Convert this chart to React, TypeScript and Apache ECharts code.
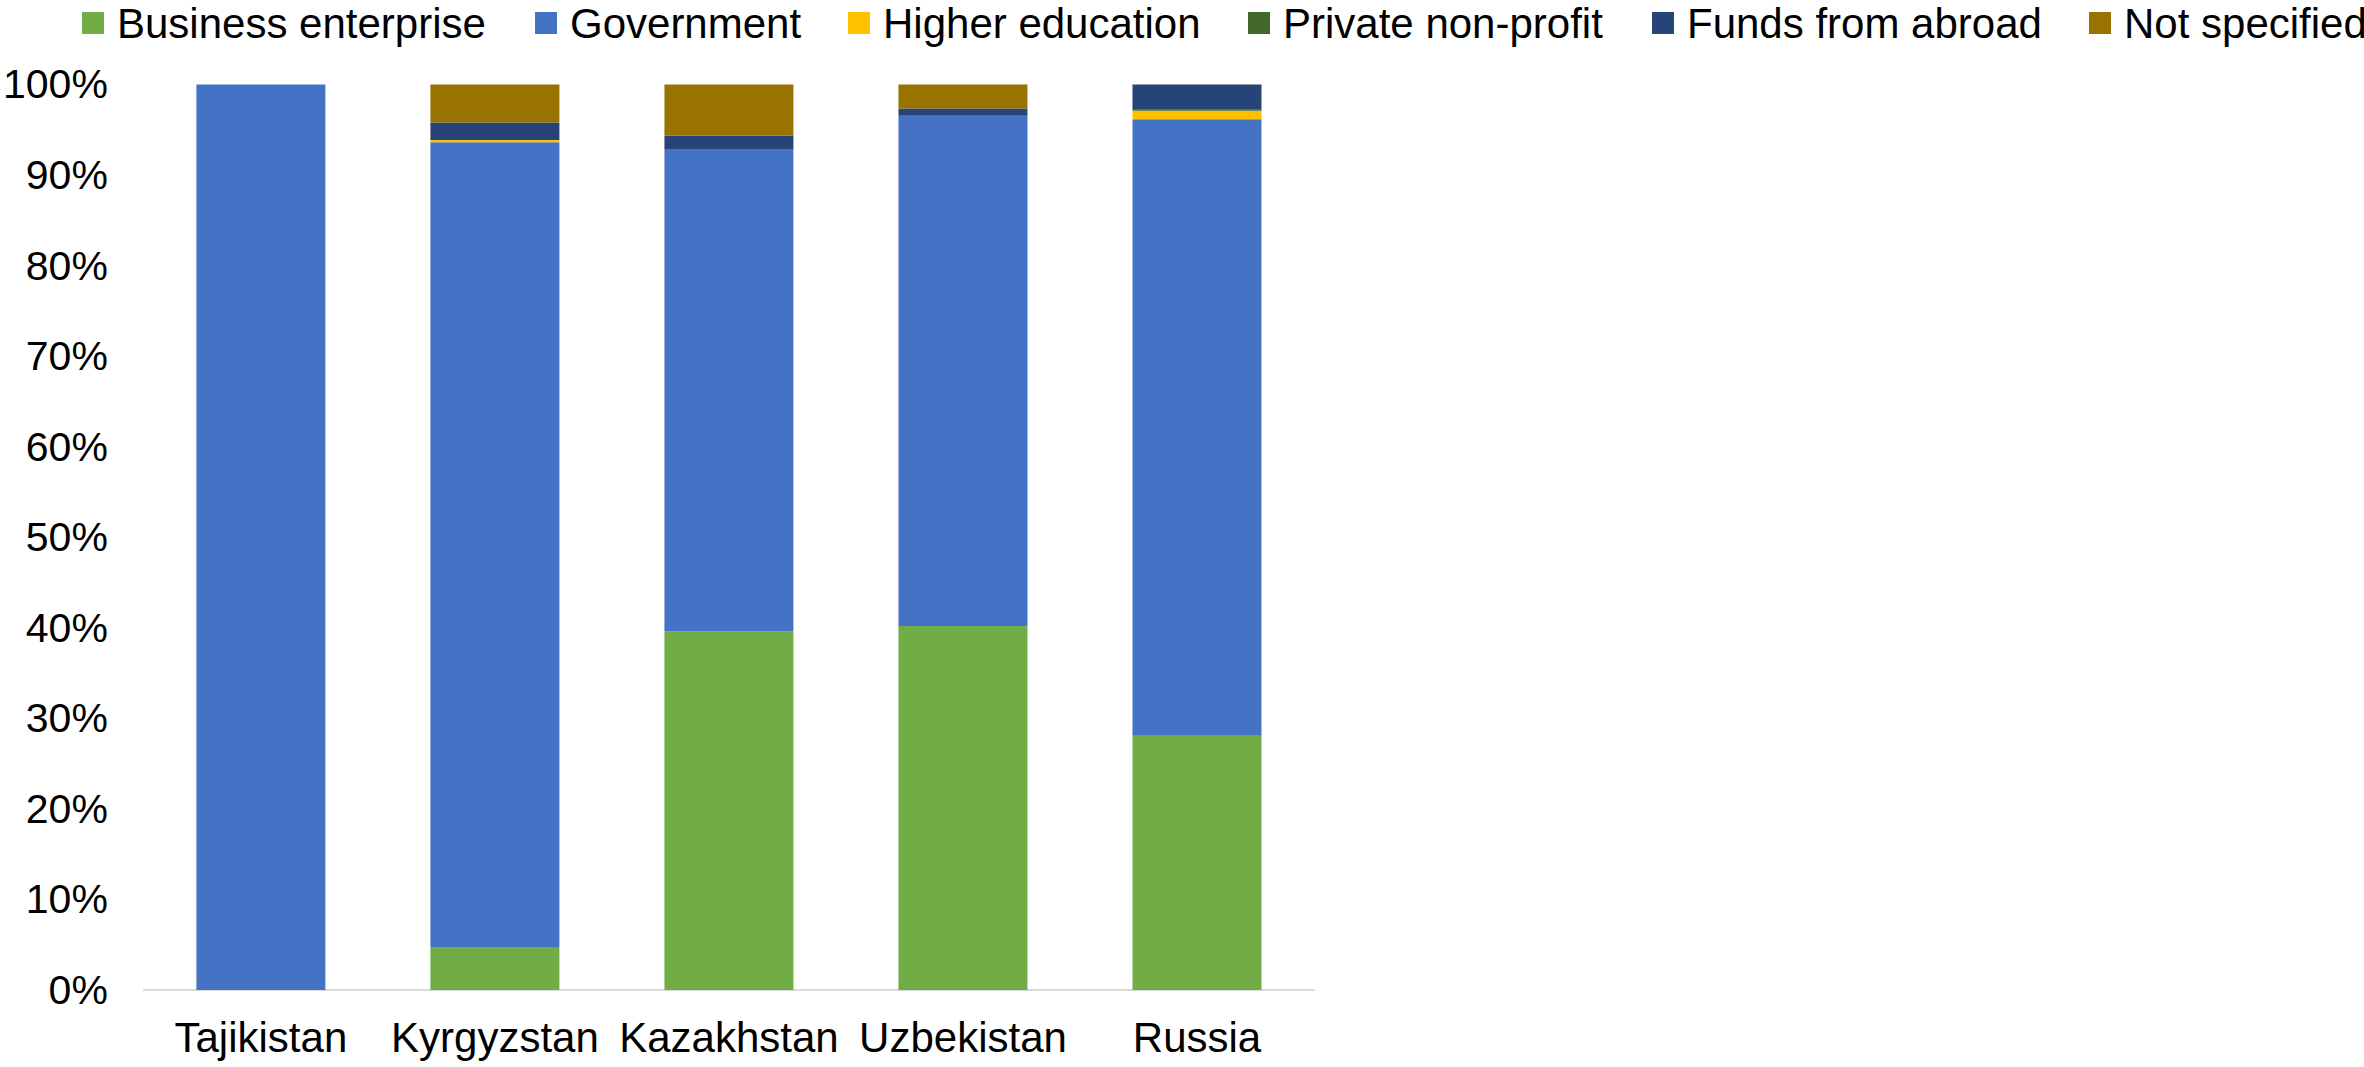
import React, { useEffect, useRef } from "react";
import * as echarts from "echarts";

const categories = ["Tajikistan", "Kyrgyzstan", "Kazakhstan", "Uzbekistan", "Russia"];
const seriesNames = [
  "Business enterprise",
  "Government",
  "Higher education",
  "Private non-profit",
  "Funds from abroad",
  "Not specified",
];
const businessEnterprise = [0, 4.75, 39.6, 40.2, 28.07];
const government = [100, 88.85, 53.27, 56.35, 68.08];
const higherEducation = [0, 0.25, 0, 0, 0.95];
const privateNonProfit = [0, 0, 0, 0, 0.1];
const fundsFromAbroad = [0, 1.95, 1.5, 0.8, 2.8];
const notSpecified = [0, 4.2, 5.63, 2.65, 0];
const yTicks = [0, 10, 20, 30, 40, 50, 60, 70, 80, 90, 100];

const colors = ["#70AD47", "#4472C4", "#FFC000", "#43682B", "#264478", "#997300"];
const legendLefts = [82, 535, 848, 1248, 1652, 2089];

export default function App() {
  const ref = useRef<HTMLDivElement>(null);
  useEffect(() => {
    document.body.style.margin = "0";
    if (!ref.current) return;
    const chart = echarts.init(ref.current, null, { renderer: "svg" });
    const values = [
      businessEnterprise,
      government,
      higherEducation,
      privateNonProfit,
      fundsFromAbroad,
      notSpecified,
    ];
    const font = "'Liberation Sans', Arial, sans-serif";
    chart.setOption({
      animation: false,
      color: colors,
      textStyle: { fontFamily: font },
      legend: seriesNames.map((n, i) => ({
        data: [n],
        left: legendLefts[i],
        top: 1,
        padding: 0,
        itemWidth: 22,
        itemHeight: 22,
        icon: "rect",
        selectedMode: false,
        textStyle: {
          fontSize: 42,
          lineHeight: 44,
          color: "#000",
          fontFamily: font,
          padding: [0, 0, 0, 8],
        },
      })),
      grid: { left: 143, right: 1050, top: 84.4, bottom: 77, containLabel: false },
      xAxis: {
        type: "category",
        data: categories,
        axisLine: { lineStyle: { color: "#d9d9d9", width: 2 } },
        axisTick: { show: false },
        axisLabel: { interval: 0, fontSize: 42, color: "#000", margin: 26, fontFamily: font },
      },
      yAxis: {
        type: "value",
        min: yTicks[0],
        max: yTicks[yTicks.length - 1],
        interval: 10,
        splitLine: { show: false },
        axisLine: { show: false },
        axisTick: { show: false },
        axisLabel: {
          fontSize: 41,
          color: "#000",
          margin: 36,
          fontFamily: font,
          formatter: "{value}%",
        },
      },
      series: seriesNames.map((n, i) => ({
        name: n,
        type: "bar",
        stack: "total",
        barWidth: 129,
        data: values[i],
        itemStyle: { color: colors[i] },
      })),
    });
    return () => chart.dispose();
  }, []);
  return <div ref={ref} style={{ width: 2364, height: 1067 }} />;
}
